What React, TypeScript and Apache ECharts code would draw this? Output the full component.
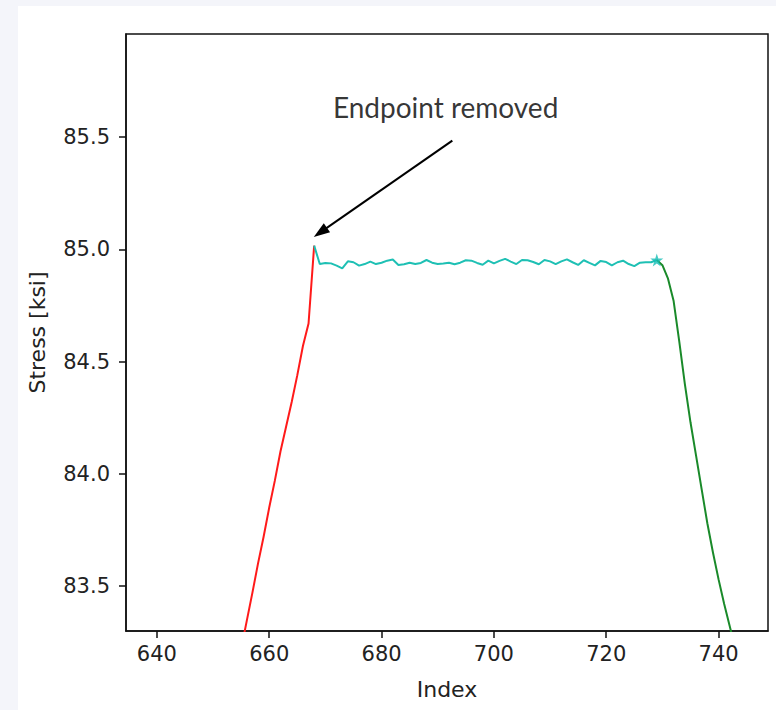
import React, { useEffect, useRef } from "react";
import * as echarts from "echarts";

// Rising portion (red)
const redIndex = [655, 656, 657, 658, 659, 660, 661, 662, 663, 664, 665, 666, 667, 668];
const redStress = [83.22, 83.345, 83.47, 83.6, 83.72, 83.85, 83.97, 84.1, 84.21, 84.32, 84.44, 84.57, 84.67, 85.017];

// Plateau (cyan), index 668..729
const plateauStart = 668;
const plateauStress = [
  85.017, 84.935, 84.94, 84.938, 84.928, 84.916, 84.947, 84.943, 84.928, 84.935,
  84.946, 84.935, 84.941, 84.95, 84.955, 84.931, 84.934, 84.941, 84.935, 84.94,
  84.953, 84.941, 84.935, 84.937, 84.941, 84.934, 84.941, 84.952, 84.95, 84.94,
  84.932, 84.95, 84.938, 84.949, 84.958, 84.946, 84.935, 84.953, 84.952, 84.944,
  84.934, 84.953, 84.947, 84.935, 84.947, 84.956, 84.943, 84.931, 84.952, 84.94,
  84.929, 84.949, 84.944, 84.929, 84.943, 84.95, 84.935, 84.926, 84.941, 84.943,
  84.943, 84.953,
];

// Unloading portion (green)
const greenIndex = [729, 730, 731, 732, 733, 734, 735, 736, 737, 738, 739, 740, 741, 742, 743];
const greenStress = [84.953, 84.93, 84.87, 84.77, 84.59, 84.4, 84.23, 84.08, 83.93, 83.78, 83.65, 83.53, 83.42, 83.32, 83.22];

// Star marker
const starPoint = [729, 84.953];

// Ticks
const xTicks = [640, 660, 680, 700, 720, 740];
const yTicks = [83.5, 84.0, 84.5, 85.0, 85.5];

// Annotation (data coordinates)
const annotationText = "Endpoint removed";
const annotationTextPos = [691.4, 85.633];
const arrowTail = [692.6, 85.485];
const arrowTip = [669.1, 85.076];

const STAR =
  "path://M50,0 L61.8,35.4 L100,35.4 L69.1,57.3 L80.9,93.3 L50,71.4 L19.1,93.3 L30.9,57.3 L0,35.4 L38.2,35.4 Z";

export default function App() {
  const ref = useRef<HTMLDivElement>(null);

  useEffect(() => {
    if (!ref.current) return;
    const chart = echarts.init(ref.current, undefined, { renderer: "svg" });
    const redData = redIndex.map((x, i) => [x, redStress[i]]);
    const cyanData = plateauStress.map((v, i) => [plateauStart + i, v]);
    const greenData = greenIndex.map((x, i) => [x, greenStress[i]]);
    const axisFont = { fontFamily: "DejaVu Sans", fontSize: 21, color: "#222" };

    chart.setOption({
      animation: false,
      backgroundColor: "transparent",
      grid: {
        left: 106,
        top: 28,
        right: 8,
        bottom: 79,
        show: true,
        borderColor: "#111",
        borderWidth: 1.5,
        backgroundColor: "#fff",
      },
      xAxis: {
        type: "value",
        min: 634.5,
        max: 748.8,
        name: "Index",
        nameLocation: "middle",
        nameGap: 47,
        nameTextStyle: { ...axisFont, fontSize: 22 },
        axisLine: { show: true, lineStyle: { color: "#111", width: 1.5 } },
        axisTick: { show: true, length: 7, lineStyle: { color: "#111", width: 1.5 }, customValues: xTicks },
        axisLabel: { ...axisFont, margin: 12, customValues: xTicks, formatter: (v: number) => String(v) },
        splitLine: { show: false },
      },
      yAxis: {
        type: "value",
        min: 83.3,
        max: 85.96,
        name: "Stress [ksi]",
        nameLocation: "middle",
        nameGap: 78,
        nameRotate: 90,
        nameTextStyle: { ...axisFont, fontSize: 22 },
        axisLine: { show: true, lineStyle: { color: "#111", width: 1.5 } },
        axisTick: { show: true, length: 7, lineStyle: { color: "#111", width: 1.5 }, customValues: yTicks },
        axisLabel: { ...axisFont, margin: 16, customValues: yTicks, formatter: (v: number) => v.toFixed(1) },
        splitLine: { show: false },
      },
      series: [
        {
          type: "line",
          data: redData,
          showSymbol: false,
          symbol: "none",
          lineStyle: { color: "#ff1a1a", width: 2 },
          silent: true,
          clip: true,
        },
        {
          type: "line",
          data: cyanData,
          showSymbol: false,
          symbol: "none",
          lineStyle: { color: "#1ec0b4", width: 2 },
          silent: true,
          clip: true,
        },
        {
          type: "line",
          data: greenData,
          showSymbol: false,
          symbol: "none",
          lineStyle: { color: "#1a8a2a", width: 2 },
          silent: true,
          clip: true,
        },
        {
          type: "scatter",
          data: [starPoint],
          symbol: STAR,
          symbolSize: 13,
          itemStyle: { color: "#15bdb5" },
          silent: true,
          z: 5,
        },
        {
          type: "scatter",
          data: [annotationTextPos],
          symbolSize: 0,
          silent: true,
          label: {
            show: true,
            position: "top",
            distance: -14,
            formatter: annotationText,
            fontFamily: "Lato",
            fontSize: 28,
            color: "#000",
            textBorderWidth: 0,
          },
          markLine: {
            silent: true,
            symbol: ["none", "triangle"],
            symbolSize: [11, 16],
            label: { show: false },
            lineStyle: { color: "#000", width: 2, type: "solid" },
            itemStyle: { color: "#000" },
            emphasis: { disabled: true },
            data: [[{ coord: arrowTail }, { coord: arrowTip }]],
          },
        },
      ],
    });
    return () => chart.dispose();
  }, []);

  return (
    <div
      style={{
        position: "fixed",
        left: 0,
        top: 0,
        width: 776,
        height: 710,
        background: "#f4f5fa",
      }}
    >
      <div
        style={{
          position: "absolute",
          left: 18,
          top: 6,
          width: 758,
          height: 704,
          background: "#fff",
        }}
      >
        <div ref={ref} style={{ width: 758, height: 704 }} />
      </div>
    </div>
  );
}
